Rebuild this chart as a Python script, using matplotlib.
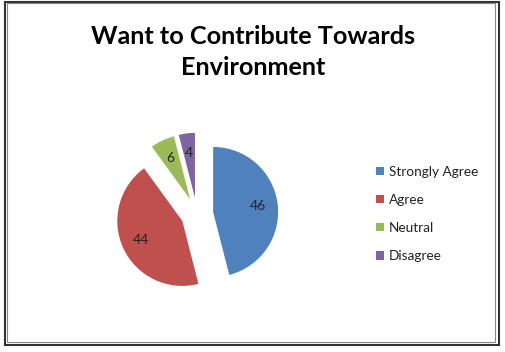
import matplotlib.pyplot as plt
from matplotlib.patches import Rectangle

categories = ['Strongly Agree', 'Agree', 'Neutral', 'Disagree']
values = [46, 44, 6, 4]
colors = ['#4F81BD', '#C0504D', '#9BBB59', '#8064A2']
explode = [0.25, 0.25, 0.25, 0.25]

plt.rcParams['font.family'] = ['Lato', 'DejaVu Sans']

fig = plt.figure(figsize=(5.06, 3.52), dpi=100)
ax = fig.add_axes([0, 0, 1, 1])

r = 65
wedges, texts, autotexts = ax.pie(
    values, colors=colors, explode=[e * r for e in explode], startangle=90, counterclock=False,
    center=(197, 138), radius=r, frame=True,
    autopct=lambda p: f'{round(p * sum(values) / 100):d}', pctdistance=0.7,
    textprops=dict(fontsize=10, color='#222222'))
ax.set_xlim(0, 506)
ax.set_ylim(0, 352)
ax.axis('off')

ax.text(253, 300, 'Want to Contribute Towards\nEnvironment', ha='center', va='center',
        fontsize=18.2, fontweight='bold', linespacing=1.45)

leg = ax.legend(wedges, categories, loc='upper left', bbox_to_anchor=(369, 193),
                bbox_transform=ax.transData, frameon=False, fontsize=9.8,
                handlelength=0.6, handleheight=0.6, handletextpad=0.35,
                labelspacing=1.18, borderpad=0)
for t in leg.get_texts():
    t.set_color('#222222')

# chart border
fig.patches.append(Rectangle((4.5 / 506, 7.5 / 352), 494.5 / 506, 343 / 352, transform=fig.transFigure,
                             fill=False, edgecolor='#333333', linewidth=1.5))
fig.patches.append(Rectangle((7.5 / 506, 10.5 / 352), 488 / 506, 338.5 / 352, transform=fig.transFigure,
                             fill=False, edgecolor='#888888', linewidth=0.8))

fig.savefig('out.png', dpi=100)
